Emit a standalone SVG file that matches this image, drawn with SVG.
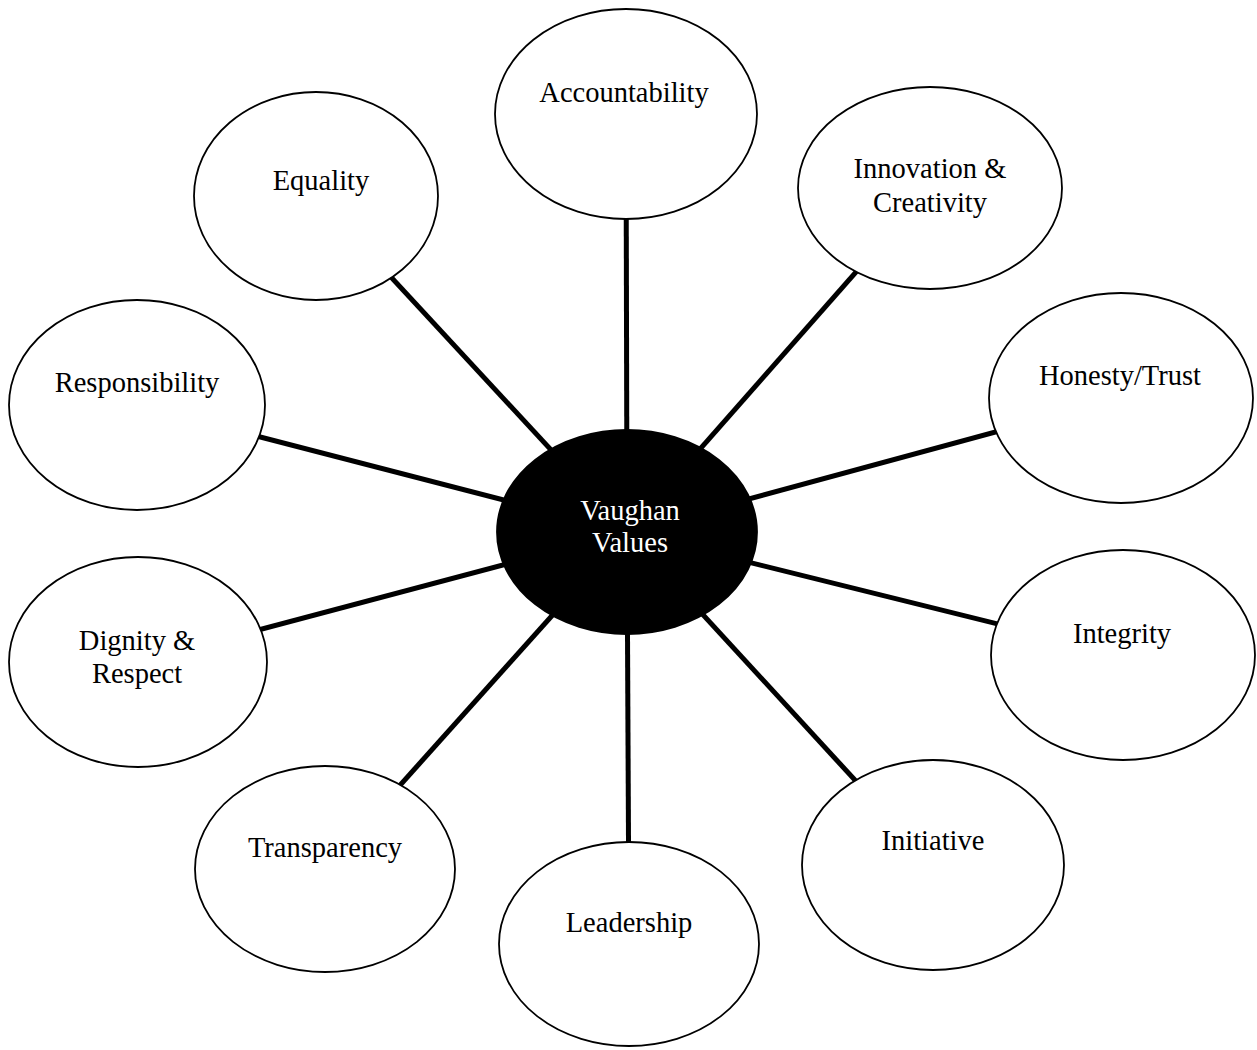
<svg xmlns="http://www.w3.org/2000/svg" width="1257" height="1050" viewBox="0 0 1257 1050">
<style>
.node{fill:#fff;stroke:#000;stroke-width:1.8}
.hub{fill:#000;stroke:#000;stroke-width:1.8}
.lbl{font-family:"Liberation Serif","Times New Roman",serif;font-size:28.5px;fill:#000;text-anchor:middle}
.hubl{font-family:"Liberation Serif","Times New Roman",serif;font-size:28.5px;fill:#fff;text-anchor:middle}
.conn line{stroke:#000;stroke-width:5}
</style>
<rect width="1257" height="1050" fill="#fff"/>
<g id="connectors" class="conn">
<line x1="627" y1="532" x2="626" y2="114"/>
<line x1="627" y1="532" x2="316" y2="196"/>
<line x1="627" y1="532" x2="930" y2="188"/>
<line x1="627" y1="532" x2="137" y2="405"/>
<line x1="627" y1="532" x2="1121" y2="398"/>
<line x1="627" y1="532" x2="138" y2="662"/>
<line x1="627" y1="532" x2="1123" y2="655"/>
<line x1="627" y1="532" x2="325" y2="869"/>
<line x1="627" y1="532" x2="629" y2="944"/>
<line x1="627" y1="532" x2="933" y2="865"/>
</g>
<g id="accountability"><ellipse class="node" cx="626" cy="114" rx="131" ry="105"/><text class="lbl" x="624" y="102">Accountability</text></g>
<g id="equality"><ellipse class="node" cx="316" cy="196" rx="122" ry="104"/><text class="lbl" x="321" y="190">Equality</text></g>
<g id="innovation"><ellipse class="node" cx="930" cy="188" rx="132" ry="101"/><text class="lbl" x="930" y="178">Innovation &amp;</text><text class="lbl" x="930" y="212">Creativity</text></g>
<g id="responsibility"><ellipse class="node" cx="137" cy="405" rx="128" ry="105"/><text class="lbl" x="137" y="392">Responsibility</text></g>
<g id="honesty"><ellipse class="node" cx="1121" cy="398" rx="132" ry="105"/><text class="lbl" x="1120" y="385">Honesty/Trust</text></g>
<g id="dignity"><ellipse class="node" cx="138" cy="662" rx="129" ry="105"/><text class="lbl" x="137" y="650">Dignity &amp;</text><text class="lbl" x="137" y="683">Respect</text></g>
<g id="integrity"><ellipse class="node" cx="1123" cy="655" rx="132" ry="105"/><text class="lbl" x="1122" y="643">Integrity</text></g>
<g id="transparency"><ellipse class="node" cx="325" cy="869" rx="130" ry="103"/><text class="lbl" x="325" y="857">Transparency</text></g>
<g id="leadership"><ellipse class="node" cx="629" cy="944" rx="130" ry="102"/><text class="lbl" x="629" y="932">Leadership</text></g>
<g id="initiative"><ellipse class="node" cx="933" cy="865" rx="131" ry="105"/><text class="lbl" x="933" y="850">Initiative</text></g>
<g id="hub"><ellipse class="hub" cx="627" cy="532" rx="130" ry="102"/><text class="hubl" x="630" y="520">Vaughan</text><text class="hubl" x="630" y="552">Values</text></g>
</svg>
